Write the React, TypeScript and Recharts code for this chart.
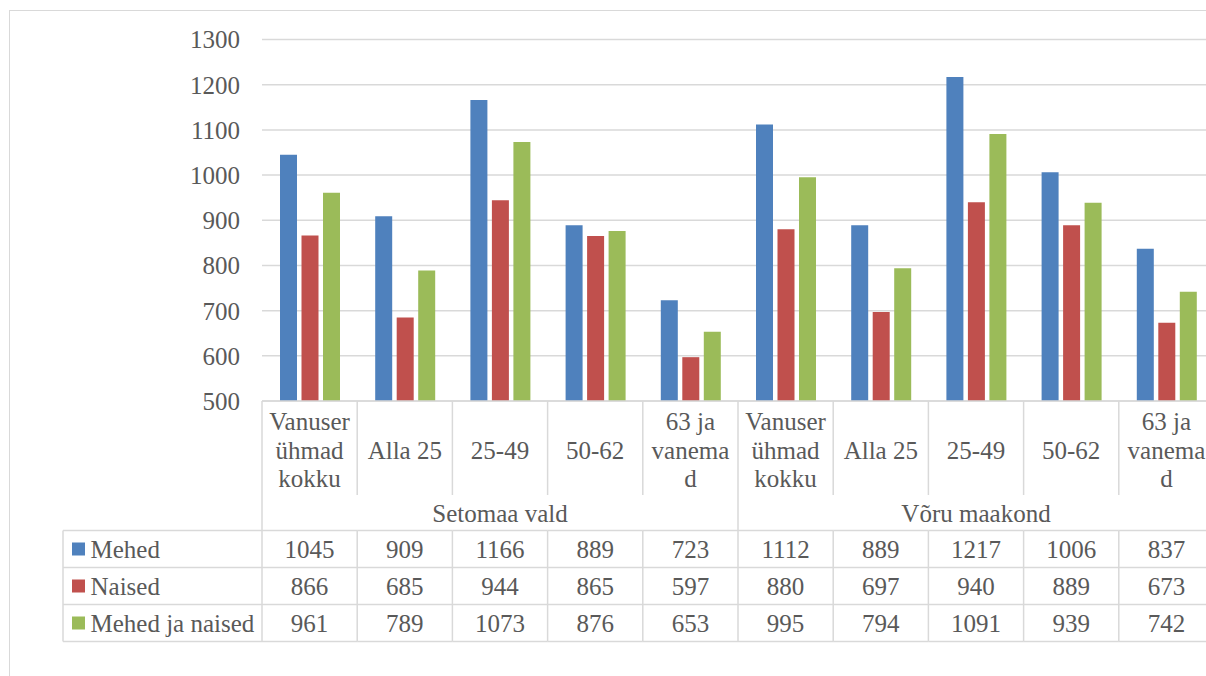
import React from "react";
import { BarChart, Bar, XAxis, YAxis, CartesianGrid } from "recharts";

const groups = ["Setomaa vald", "Võru maakond"];
const categoryLines: string[][] = [
  ["Vanuser", "ühmad", "kokku"],
  ["Alla 25"],
  ["25-49"],
  ["50-62"],
  ["63 ja", "vanema", "d"],
];
const seriesNames = ["Mehed", "Naised", "Mehed ja naised"];
const seriesColors = ["#4F81BD", "#C0504D", "#9BBB59"];
const mehed = [1045, 909, 1166, 889, 723, 1112, 889, 1217, 1006, 837];
const naised = [866, 685, 944, 865, 597, 880, 697, 940, 889, 673];
const koos = [961, 789, 1073, 876, 653, 995, 794, 1091, 939, 742];
const yTicks = [500, 600, 700, 800, 900, 1000, 1100, 1200, 1300];

const seriesKeys = ["mehed", "naised", "koos"];
const seriesValues = [mehed, naised, koos];

const data = mehed.map((_, i) => ({
  id: `${groups[Math.floor(i / 5)]}|${i}`,
  group: groups[Math.floor(i / 5)],
  lines: categoryLines[i % 5],
  mehed: mehed[i],
  naised: naised[i],
  koos: koos[i],
}));

const FONT = "'Liberation Serif', 'DejaVu Serif', serif";
const TEXT = "#595959";
const LINE = "#D9D9D9";
const FS = 25;

const W = 1230;
const H = 668;
const PLOT_LEFT = 254;
const PLOT_RIGHT = 1206;
const PLOT_TOP = 31.5;
const AXIS_Y = 393;
const X_AXIS_H = 250;
const BAND = (PLOT_RIGHT - PLOT_LEFT) / data.length;

const LABEL_BOTTOM = 487;
const TABLE_TOP = 522.5;
const ROW_H = 37;
const TABLE_LEFT = 55;

const CategoryTick = (props: any) => {
  const { x, payload } = props;
  const idx: number = payload.index;
  const d = data[idx];
  const left = x - BAND / 2;
  const right = x + BAND / 2;
  const lines = d.lines;
  const lineH = 28.3;
  const midY = 442;
  const startY = midY - ((lines.length - 1) * lineH) / 2;
  const groupEnd = idx % 5 === 4;
  const rows = [0, 1, 2];
  return (
    <g>
      {lines.map((ln: string, k: number) => (
        <text
          key={k}
          x={x}
          y={startY + k * lineH}
          dy="0.35em"
          textAnchor="middle"
          fontFamily={FONT}
          fontSize={FS}
          fill={TEXT}
        >
          {ln}
        </text>
      ))}
      <line
        x1={right}
        x2={right}
        y1={AXIS_Y}
        y2={groupEnd ? TABLE_TOP : LABEL_BOTTOM}
        stroke={LINE}
        strokeWidth={1.5}
      />
      {idx === 0 && (
        <line x1={left} x2={left} y1={AXIS_Y} y2={TABLE_TOP} stroke={LINE} strokeWidth={1.5} />
      )}
      {idx % 5 === 2 && (
        <text
          x={x}
          y={505}
          dy="0.35em"
          textAnchor="middle"
          fontFamily={FONT}
          fontSize={FS}
          fill={TEXT}
        >
          {d.group}
        </text>
      )}
      {[0, 1, 2, 3].map((r) => (
        <line
          key={"h" + r}
          x1={left}
          x2={right}
          y1={TABLE_TOP + r * ROW_H}
          y2={TABLE_TOP + r * ROW_H}
          stroke={LINE}
          strokeWidth={1.5}
        />
      ))}
      <line
        x1={right}
        x2={right}
        y1={TABLE_TOP}
        y2={TABLE_TOP + 3 * ROW_H}
        stroke={LINE}
        strokeWidth={1.5}
      />
      {rows.map((r) => (
        <text
          key={"v" + r}
          x={x}
          y={TABLE_TOP + r * ROW_H + ROW_H / 2}
          dy="0.35em"
          textAnchor="middle"
          fontFamily={FONT}
          fontSize={FS}
          fill={TEXT}
        >
          {seriesValues[r][idx]}
        </text>
      ))}
      {idx === 0 && (
        <g>
          {[0, 1, 2, 3].map((r) => (
            <line
              key={"lh" + r}
              x1={TABLE_LEFT}
              x2={left}
              y1={TABLE_TOP + r * ROW_H}
              y2={TABLE_TOP + r * ROW_H}
              stroke={LINE}
              strokeWidth={1.5}
            />
          ))}
          <line
            x1={TABLE_LEFT}
            x2={TABLE_LEFT}
            y1={TABLE_TOP}
            y2={TABLE_TOP + 3 * ROW_H}
            stroke={LINE}
            strokeWidth={1.5}
          />
          <line
            x1={left}
            x2={left}
            y1={TABLE_TOP}
            y2={TABLE_TOP + 3 * ROW_H}
            stroke={LINE}
            strokeWidth={1.5}
          />
          {rows.map((r) => (
            <g key={"lg" + r}>
              <rect
                x={64}
                y={TABLE_TOP + r * ROW_H + ROW_H / 2 - 6.5}
                width={13}
                height={13}
                fill={seriesColors[r]}
              />
              <text
                x={82.5}
                y={TABLE_TOP + r * ROW_H + ROW_H / 2}
                dy="0.35em"
                textAnchor="start"
                fontFamily={FONT}
                fontSize={FS}
                fill={TEXT}
              >
                {seriesNames[r]}
              </text>
            </g>
          ))}
        </g>
      )}
    </g>
  );
};

export default function App() {
  return (
    <div
      style={{
        position: "fixed",
        left: 0,
        top: 0,
        width: "100vw",
        height: "100vh",
        overflow: "hidden",
        background: "#fff",
      }}
    >
      <div
        style={{
          position: "absolute",
          left: 9,
          top: 10,
          right: -10,
          bottom: -10,
          borderLeft: `1.5px solid ${LINE}`,
          borderTop: `1.5px solid ${LINE}`,
        }}
      />
      <div style={{ position: "absolute", left: 8, top: 8 }}>
        <BarChart
          width={W}
          height={H}
          data={data}
          margin={{ top: PLOT_TOP, right: W - PLOT_RIGHT, left: 0, bottom: H - AXIS_Y - X_AXIS_H }}
          barCategoryGap={18}
          barGap={4.5}
        >
          <CartesianGrid vertical={false} stroke={LINE} strokeWidth={1.5} />
          <YAxis
            width={PLOT_LEFT}
            domain={[500, 1300]}
            ticks={yTicks}
            allowDataOverflow
            axisLine={false}
            tickLine={false}
            tickMargin={16}
            tick={{ fontFamily: FONT, fontSize: FS, fill: TEXT }}
          />
          <XAxis
            dataKey="id"
            height={X_AXIS_H}
            interval={0}
            axisLine={{ stroke: LINE, strokeWidth: 1.5 }}
            tickLine={false}
            tick={<CategoryTick />}
          />
          {seriesKeys.map((k, i) => (
            <Bar
              key={k}
              dataKey={k}
              name={seriesNames[i]}
              fill={seriesColors[i]}
              isAnimationActive={false}
            />
          ))}
        </BarChart>
      </div>
    </div>
  );
}
